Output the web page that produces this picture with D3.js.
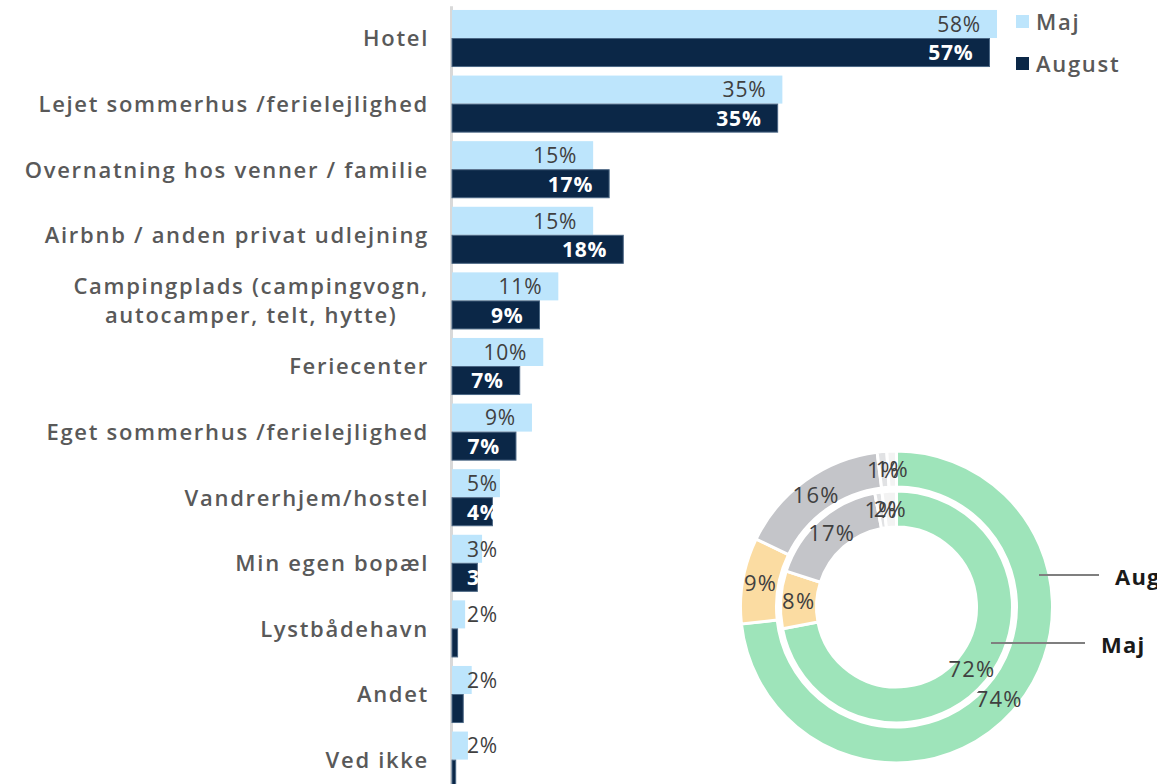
<!DOCTYPE html>
<html>
<head>
<meta charset="utf-8">
<script src="https://cdn.jsdelivr.net/npm/d3@7"></script>
<style>
  body { margin: 0; background: #fff; }
  svg { display: block; }
  text { font-family: "Open Sans", sans-serif; }
</style>
</head>
<body>
<svg id="chart" width="1157" height="784"></svg>
<script>
// bar chart data
const categories = [
  "Hotel",
  "Lejet sommerhus /ferielejlighed",
  "Overnatning hos venner / familie",
  "Airbnb / anden privat udlejning",
  "Campingplads (campingvogn,\nautocamper, telt, hytte)",
  "Feriecenter",
  "Eget sommerhus /ferielejlighed",
  "Vandrerhjem/hostel",
  "Min egen bopæl",
  "Lystbådehavn",
  "Andet",
  "Ved ikke"
]
const series = ["Maj", "August"]
const majValues = [58, 35.2, 15.1, 15.1, 11.4, 9.8, 8.6, 5.2, 3.3, 1.5, 2.2, 1.8]
const augValues = [57.2, 34.7, 16.8, 18.3, 9.4, 7.3, 6.9, 4.4, 2.8, 0.7, 1.3, 0.5]

// donut data (outer ring = August, inner ring = Maj)
const donutAug = [74, 9, 16, 1, 1]
const donutMaj = [72, 8, 17, 1, 2]

const barColors = { "Maj": "#bde5fc", "August": "#0b2747" }
const labelColors = { "Maj": "#404040", "August": "#ffffff" }
const sliceColors = ["#9ee4ba", "#fbdca2", "#c4c5c9", "#e1e2e4", "#f3f3f3"]

const svg = d3.select("#chart")

const rows = categories.map((c, i) => ({ cat: c, Maj: majValues[i], August: augValues[i] }))

const x = d3.scaleLinear().domain([0, 58]).range([451, 997])
const y = d3.scaleBand()
  .domain(categories)
  .range([5.7, 5.7 + 65.6 * categories.length])
  .paddingInner(0.13)
  .paddingOuter(0.065)
const ySub = d3.scaleBand().domain(series).range([0, y.bandwidth()])

// axis with category labels
const axis = svg.append("g")
  .attr("transform", `translate(${x(0)},0)`)
  .call(d3.axisLeft(y).tickSize(0).tickPadding(22).tickFormat(""))

axis.select(".domain").attr("stroke", "#d9d9d9").attr("stroke-width", 3)

axis.selectAll(".tick").each(function (d) {
  const g = d3.select(this)
  g.select("text").remove()
  const lines = d.split("\n")
  const t = g.append("text")
    .attr("fill", "#595959")
    .attr("font-size", 22)
    .attr("font-weight", 600)
    .attr("letter-spacing", 1.7)
  lines.forEach((line, i) => {
    t.append("tspan")
      .attr("x", 0)
      .attr("y", (i - (lines.length - 1) / 2) * 29)
      .attr("dy", "0.36em")
      .text(line)
  })
  if (lines.length > 1) {
    const w = d3.max(t.selectAll("tspan").nodes(), n => n.getComputedTextLength())
    t.attr("text-anchor", "middle").selectAll("tspan").attr("x", -22 - w / 2)
  } else {
    t.attr("text-anchor", "end").selectAll("tspan").attr("x", -22)
  }
})

// bars
const groups = svg.append("g").selectAll("g")
  .data(rows)
  .join("g")
  .attr("transform", d => `translate(0,${y(d.cat)})`)

groups.selectAll("rect")
  .data(d => series.map(s => ({ s, v: d[s] })))
  .join("rect")
  .attr("x", x(0) + 1)
  .attr("y", d => ySub(d.s))
  .attr("width", d => x(d.v) - x(0) - 1)
  .attr("height", ySub.bandwidth() - 0.5)
  .attr("fill", d => barColors[d.s])
  .attr("stroke", d => d.s === "August" ? "#4b6784" : "none")
  .attr("stroke-width", 1)

groups.selectAll("text")
  .data(d => series.map(s => ({ s, v: d[s] })))
  .join("text")
  .attr("y", d => ySub(d.s) + ySub.bandwidth() / 2)
  .attr("dy", "0.36em")
  .attr("font-size", 21)
  .attr("letter-spacing", 0.8)
  .attr("font-weight", d => d.s === "August" ? 700 : 500)
  .attr("fill", d => labelColors[d.s])
  .text(d => Math.round(d.v) + "%")
  .attr("x", function (d) {
    const w = this.getComputedTextLength()
    return Math.max(x(d.v) - 16 - w, x(0) + 16)
  })

// legend
const legend = svg.append("g").selectAll("g")
  .data(series)
  .join("g")
  .attr("transform", (d, i) => `translate(1016,${15 + i * 42})`)

legend.append("rect")
  .attr("width", 13).attr("height", 13)
  .attr("fill", d => barColors[d])

legend.append("text")
  .attr("x", 20).attr("y", 7).attr("dy", "0.36em")
  .attr("font-size", 22).attr("font-weight", 600)
  .attr("letter-spacing", 1.7)
  .attr("fill", "#595959")
  .text(d => d)

// donut
const cx = 896.5, cy = 607
const pie = d3.pie().sort(null).value(d => d)
const donut = svg.append("g").attr("transform", `translate(${cx},${cy})`)

const rings = [
  { name: "August", data: donutAug, inner: 120, outer: 156 },
  { name: "Maj", data: donutMaj, inner: 80, outer: 116 }
]

rings.forEach(r => {
  const arc = d3.arc().innerRadius(r.inner).outerRadius(r.outer)
  const arcs = pie(r.data)
  donut.append("g").selectAll("path")
    .data(arcs)
    .join("path")
    .attr("d", arc)
    .attr("fill", (d, i) => sliceColors[i])
    .attr("stroke", "#fff")
    .attr("stroke-width", 3)
  donut.append("g").selectAll("text")
    .data(arcs)
    .join("text")
    .attr("transform", d => `translate(${arc.centroid(d)})`)
    .attr("text-anchor", "middle")
    .attr("dy", "0.36em")
    .attr("font-size", 22)
    .attr("letter-spacing", 1.2)
    .attr("fill", "#404040")
    .text(d => d.data + "%")
})

// ring name callouts
const callouts = [
  { name: "August", x1: 1039, x2: 1099, y: 575 },
  { name: "Maj", x1: 991, x2: 1085, y: 643 }
]
const co = svg.append("g").selectAll("g").data(callouts).join("g")
co.append("line")
  .attr("x1", d => d.x1).attr("x2", d => d.x2)
  .attr("y1", d => d.y).attr("y2", d => d.y)
  .attr("stroke", "#7f7f7f").attr("stroke-width", 2)
co.append("text")
  .attr("x", d => d.x2 + 16).attr("y", d => d.y + 2).attr("dy", "0.36em")
  .attr("font-size", 22).attr("font-weight", 700)
  .attr("letter-spacing", 1.2)
  .attr("fill", "#1a1a1a")
  .text(d => d.name)
</script>
</body>
</html>
